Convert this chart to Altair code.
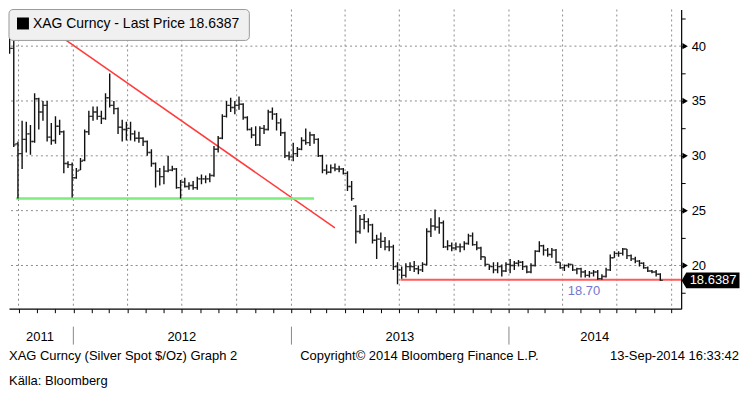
import altair as alt
import pandas as pd

# ---------------- data (weekly OHLC) ----------------
week_start = "2011-09-16"
n_weeks = 157
opens = [41.4, 39.8, 31.1, 30.2, 31.5, 32.0, 31.3, 35.2, 34.0, 34.6, 31.7, 31.4, 32.7, 32.2, 29.3, 29.2,
         28.0, 28.7, 29.6, 32.2, 33.6, 34.0, 33.6, 33.4, 35.3, 34.6, 34.3, 32.6, 32.4, 32.5, 32.0, 31.6,
         31.6, 31.3, 30.3, 29.3, 28.6, 28.1, 28.6, 28.7, 28.8, 27.1, 27.6, 27.2, 27.3, 27.1, 27.9, 27.9,
         27.9, 28.2, 30.6, 31.6, 33.6, 34.6, 34.4, 34.6, 34.7, 33.5, 32.4, 31.9, 31.0, 32.5, 32.4, 34.0,
         33.8, 33.0, 32.1, 30.0, 29.9, 30.2, 30.6, 31.4, 31.2, 31.9, 31.5, 30.0, 28.7, 28.5, 28.9, 28.8,
         28.8, 28.4, 27.2, 25.4, 23.1, 24.2, 24.0, 23.7, 22.3, 22.4, 22.2, 21.7, 21.7, 19.9, 19.6, 19.1,
         19.9, 19.9, 19.7, 19.6, 20.1, 23.1, 23.6, 23.5, 23.9, 21.7, 21.8, 21.6, 21.7, 21.7, 22.0, 22.7,
         21.9, 21.6, 20.8, 20.1, 19.9, 19.6, 19.9, 19.5, 20.1, 20.0, 20.2, 20.3, 19.9, 19.4, 20.0, 21.3,
         21.8, 21.4, 21.0, 21.4, 20.3, 19.8, 20.0, 20.1, 19.6, 19.7, 19.4, 19.1, 19.3, 19.4, 18.8, 19.0,
         19.6, 20.7, 21.1, 21.1, 21.5, 20.9, 20.6, 20.4, 20.2, 19.8, 19.5, 19.4, 19.2]
highs = [41.6, 40.8, 31.3, 33.2, 33.1, 32.8, 35.7, 35.3, 35.0, 35.0, 33.0, 33.6, 33.3, 32.3, 29.5, 29.4,
         28.9, 29.8, 32.4, 34.1, 34.5, 34.5, 34.1, 35.7, 37.5, 35.0, 34.4, 33.3, 33.1, 33.1, 32.3, 32.2,
         31.7, 31.4, 30.6, 29.4, 28.9, 29.1, 30.0, 29.1, 28.9, 27.8, 28.0, 27.6, 27.7, 28.1, 28.3, 28.2,
         28.4, 30.9, 31.8, 33.8, 35.0, 35.3, 35.0, 35.4, 34.8, 33.6, 32.6, 32.7, 32.7, 32.8, 34.2, 34.4,
         33.9, 33.4, 32.2, 30.4, 31.2, 30.8, 31.7, 32.5, 32.2, 32.0, 31.6, 30.1, 29.2, 29.2, 29.3, 29.1,
         28.9, 28.6, 27.7, 25.5, 24.6, 24.7, 24.3, 23.8, 22.8, 23.0, 22.6, 22.3, 21.9, 20.3, 19.9, 20.2,
         20.3, 20.4, 20.0, 20.3, 23.4, 24.3, 25.1, 24.4, 24.1, 22.3, 22.1, 22.1, 22.0, 22.2, 22.9, 23.0,
         22.2, 21.7, 20.8, 20.1, 20.3, 20.3, 20.1, 20.3, 20.6, 20.4, 20.5, 20.4, 20.0, 20.2, 21.4, 22.2,
         21.9, 21.6, 21.6, 21.5, 20.3, 20.1, 20.2, 20.1, 19.8, 19.8, 19.6, 19.5, 19.6, 19.6, 19.2, 19.8,
         21.0, 21.3, 21.3, 21.6, 21.5, 21.0, 20.8, 20.5, 20.3, 19.9, 19.6, 19.6, 19.3]
lows = [39.3, 30.8, 26.1, 28.8, 30.3, 30.1, 31.2, 32.4, 33.2, 31.3, 31.0, 31.1, 31.9, 28.4, 28.9, 26.2,
        27.9, 28.7, 29.5, 31.9, 33.2, 33.3, 32.9, 33.3, 34.4, 33.8, 32.0, 31.3, 31.4, 31.4, 31.3, 31.2,
        30.9, 30.0, 29.0, 27.1, 27.3, 27.4, 28.5, 28.6, 27.0, 26.1, 27.1, 26.9, 26.9, 26.9, 27.4, 27.5,
        27.6, 28.1, 30.3, 31.5, 33.5, 34.0, 33.8, 34.2, 33.3, 32.3, 31.6, 30.9, 30.9, 32.0, 32.3, 33.3,
        32.3, 31.8, 29.8, 29.6, 29.5, 29.9, 30.5, 31.0, 30.9, 31.1, 29.9, 28.4, 28.3, 28.4, 28.6, 28.5,
        28.3, 26.8, 25.9, 22.0, 22.9, 23.3, 23.0, 22.0, 20.6, 21.6, 21.4, 21.3, 19.6, 18.3, 18.8, 18.9,
        19.5, 19.4, 19.2, 19.4, 20.0, 22.6, 23.2, 22.9, 21.6, 21.4, 21.3, 21.4, 21.2, 21.4, 21.9, 21.8,
        21.4, 20.5, 19.9, 19.6, 19.3, 19.3, 19.0, 19.4, 19.3, 19.6, 19.9, 19.6, 19.3, 19.3, 19.9, 21.2,
        20.9, 20.8, 20.7, 20.2, 19.7, 19.5, 19.8, 19.5, 19.2, 18.9, 18.9, 18.9, 19.0, 18.7, 18.7, 18.9,
        19.5, 20.7, 20.8, 20.9, 20.6, 20.4, 20.2, 19.9, 19.7, 19.4, 19.3, 19.0, 18.6]
closes = [39.8, 31.0, 30.2, 31.5, 32.0, 31.3, 35.2, 34.0, 34.6, 31.7, 31.4, 32.7, 32.2, 29.3, 29.2, 28.0,
          28.6, 29.5, 32.2, 33.6, 34.0, 33.6, 33.4, 35.3, 34.6, 34.3, 32.6, 32.4, 32.5, 32.0, 31.6, 31.6,
          31.3, 30.3, 29.3, 28.6, 28.1, 28.6, 28.7, 28.8, 27.1, 27.6, 27.2, 27.3, 27.1, 27.9, 27.9, 27.9,
          28.2, 30.6, 31.6, 33.6, 34.6, 34.4, 34.6, 34.7, 33.5, 32.4, 31.9, 31.0, 32.5, 32.4, 34.0, 33.8,
          33.0, 32.1, 30.0, 29.9, 30.2, 30.6, 31.4, 31.2, 31.9, 31.5, 30.0, 28.7, 28.5, 28.9, 28.8, 28.8,
          28.4, 27.2, 26.1, 23.1, 24.2, 24.0, 23.7, 22.3, 22.4, 22.2, 21.7, 21.7, 19.9, 19.6, 19.1, 19.9,
          19.9, 19.7, 19.6, 20.1, 23.1, 23.6, 23.5, 23.9, 21.7, 21.8, 21.6, 21.7, 21.7, 22.0, 22.7, 21.9,
          21.6, 20.8, 20.1, 19.9, 19.6, 19.9, 19.5, 20.1, 20.0, 20.2, 20.3, 19.9, 19.4, 20.0, 21.3, 21.8,
          21.4, 21.0, 21.4, 20.3, 19.8, 20.0, 20.1, 19.6, 19.7, 19.4, 19.1, 19.3, 19.4, 18.8, 19.0, 19.6,
          20.7, 21.1, 21.1, 21.5, 20.9, 20.6, 20.4, 20.2, 19.8, 19.5, 19.4, 19.2, 18.64]

last_price = 18.6387
support_level = 18.70
green_level = 26.1
trend_start = ("2011-09-30", 43.6)
trend_end = ("2013-03-15", 23.43)
green_start, green_end = "2011-09-27", "2013-02-08"
support_start, support_end = "2013-07-03", "2014-10-17"
grid_values = [20, 25, 30, 35, 40]
minor_values = [17.5, 20, 22.5, 25, 27.5, 30, 32.5, 35, 37.5, 40, 42.5]
quarter_starts = ["2011-10-01", "2012-01-01", "2012-04-01", "2012-07-01", "2012-10-01", "2013-01-01",
                  "2013-04-01", "2013-07-01", "2013-10-01", "2014-01-01", "2014-04-01", "2014-07-01",
                  "2014-10-01"]
year_starts = ["2012-01-01", "2013-01-01", "2014-01-01"]
year_labels = ["2011", "2012", "2013", "2014"]
year_label_dates = ["2011-11-06", "2012-07-01", "2013-07-02", "2014-05-25"]
footer_texts = ["XAG Curncy (Silver Spot  $/Oz) Graph 2",
                "Copyright\u00a9 2014 Bloomberg Finance L.P.",
                "13-Sep-2014 16:33:42"]
source_text = "K\u00e4lla: Bloomberg"

# ---------------- tables ----------------
dates = pd.date_range(week_start, periods=n_weeks, freq="7D").strftime("%Y-%m-%dT00:00:00")
bars = pd.DataFrame({"date": dates, "open": opens, "high": highs, "low": lows, "close": closes})


def iso(s):
    return s + "T00:00:00"


trend = pd.DataFrame({"date": [iso(trend_start[0]), iso(trend_end[0])],
                      "v": [trend_start[1], trend_end[1]]})
green = pd.DataFrame({"date": [iso(green_start), iso(green_end)], "v": [green_level, green_level]})
support = pd.DataFrame({"date": [iso(support_start), iso(support_end)], "v": [support_level, support_level]})
hgrid = pd.DataFrame({"v": grid_values})
vgrid = pd.DataFrame({"date": [iso(d) for d in quarter_starts]})
yseps = pd.DataFrame({"date": [iso(d) for d in year_starts]})
ylabs = pd.DataFrame({"date": [iso(d) for d in year_label_dates], "t": year_labels})
tri = pd.DataFrame({"v": grid_values})
lastdf = pd.DataFrame({"v": [last_price], "t": [f"{last_price:.4f}"]})
sup_lbl = pd.DataFrame({"date": [iso("2014-05-07")], "v": [17.65], "t": [f"{support_level:.2f}"]})

W, H = 674, 300
months = pd.date_range("2011-10-01", "2014-10-01", freq="MS")
month_vals = [alt.DateTime(year=int(m.year), month=int(m.month), date=1) for m in months]

FONT = "Liberation Sans"
xscale = alt.Scale(domain=[alt.DateTime(year=2011, month=9, date=15),
                           alt.DateTime(year=2014, month=10, date=17)], nice=False)
yscale = alt.Scale(domain=[16.06, 43.34], nice=False, zero=False)
xaxis = alt.Axis(values=month_vals, labels=False, title=None, grid=False,
                 ticks=True, tickSize=4, tickColor="#000000", tickWidth=1,
                 domainColor="#000000", domainWidth=1.2)
yaxis = alt.Axis(orient="right", values=minor_values, title=None, grid=False,
                 labelExpr="datum.value % 5 == 0 ? datum.value : ''",
                 tickSize=4, tickColor="#000000", tickWidth=1,
                 domainColor="#000000", domainWidth=1.2,
                 labelFont=FONT, labelFontSize=13, labelColor="#000000",
                 labelPadding=6, labelOverlap=False)


def X(f="date"):
    return alt.X(f"{f}:T", scale=xscale, axis=xaxis, title=None)


def Y(f="v"):
    return alt.Y(f"{f}:Q", scale=yscale, axis=yaxis, title=None)


base_bars = alt.Chart(bars)
hl = base_bars.mark_rule(color="#111111", strokeWidth=1.4, clip=True).encode(
    x=X(), y=Y("low"), y2="high:Q")
otick = base_bars.mark_tick(orient="horizontal", color="#111111", size=2.6, thickness=1.4,
                            xOffset=-1.3, clip=True).encode(x=X(), y=Y("open"))
ctick = base_bars.mark_tick(orient="horizontal", color="#111111", size=2.6, thickness=1.4,
                            xOffset=1.3, clip=True).encode(x=X(), y=Y("close"))

hgrid_l = alt.Chart(hgrid).mark_rule(color="#8c8c8c", strokeWidth=1, strokeDash=[2, 3]).encode(y=Y())
vgrid_l = alt.Chart(vgrid).mark_rule(color="#8c8c8c", strokeWidth=1, strokeDash=[2, 3]).encode(x=X())

trend_l = alt.Chart(trend).mark_line(color="#ff3b3b", strokeWidth=1.5, clip=True).encode(x=X(), y=Y())
green_l = alt.Chart(green).mark_line(color="#7ded7d", strokeWidth=2.5).encode(x=X(), y=Y())
support_l = alt.Chart(support).mark_line(color="#ff5a5a", strokeWidth=2).encode(x=X(), y=Y())
sup_text = alt.Chart(sup_lbl).mark_text(font=FONT, fontSize=13, color="#7575d1",
                                        baseline="middle").encode(x=X(), y=Y(), text="t:N")

tri_l = alt.Chart(tri).mark_point(shape="triangle-right", filled=True, size=40, color="#000000",
                                  opacity=1).encode(x=alt.value(W + 4), y=Y())

label_shape = "M-1,0L-0.84,-0.27L1,-0.27L1,0.27L-0.84,0.27Z"
last_box = alt.Chart(lastdf).mark_point(shape=label_shape, filled=True, size=3364, color="#000000",
                                        opacity=1, strokeWidth=0).encode(x=alt.value(W + 29.5), y=Y())
last_txt = alt.Chart(lastdf).mark_text(font=FONT, fontSize=13, color="#ffffff",
                                       baseline="middle").encode(x=alt.value(W + 32), y=Y(), text="t:N")

# legend box
leg_box = alt.Chart(lastdf).mark_rect(fill="#f0f0f0", stroke="#9a9a9a", strokeWidth=1,
                                      cornerRadius=4).encode(
    x=alt.value(0), x2=alt.value(241), y=alt.value(0), y2=alt.value(31))
leg_sq = alt.Chart(lastdf).mark_square(color="#000000", size=144, opacity=1).encode(
    x=alt.value(14), y=alt.value(14))
leg_txt = alt.Chart(lastdf).mark_text(font=FONT, fontSize=14, color="#000000", align="left",
                                      baseline="middle").encode(
    x=alt.value(24), y=alt.value(15), text=alt.value(f"XAG Curncy - Last Price {last_price:.4f}"))

# year separators and labels under the axis
ysep_l = alt.Chart(yseps).mark_rule(color="#888888", strokeWidth=1).encode(
    x=X(), y=alt.value(318), y2=alt.value(336))
ylab_l = alt.Chart(ylabs).mark_text(font=FONT, fontSize=13, color="#000000",
                                    baseline="middle").encode(x=X(), y=alt.value(328), text="t:N")


def txt(s, x, y, align):
    return alt.Chart(lastdf).mark_text(font=FONT, fontSize=13, color="#000000", align=align,
                                       baseline="middle").encode(
        x=alt.value(x), y=alt.value(y), text=alt.value(s))


f1 = txt(footer_texts[0], 0, 347, "left")
f2 = txt(footer_texts[1], 292, 347, "left")
f3 = txt(footer_texts[2], 732, 347, "right")
f4 = txt(source_text, 0, 373, "left")

chart = alt.layer(
    hgrid_l, vgrid_l, trend_l, green_l, support_l, hl, otick, ctick, sup_text,
    tri_l, last_box, last_txt, leg_box, leg_sq, leg_txt, ysep_l, ylab_l, f1, f2, f3, f4,
).properties(width=W, height=H, padding=0, background="#ffffff").configure_view(stroke=None)

chart.save("out.html", embed_options={"renderer": "svg", "actions": False})
